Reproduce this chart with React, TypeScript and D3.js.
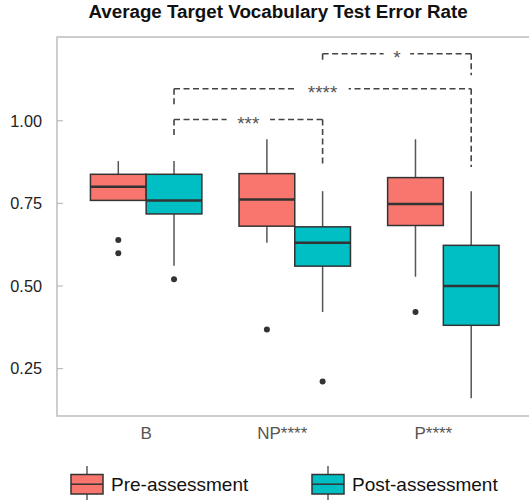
import React from 'react';
import * as d3 from 'd3';

// chart values
const categories = ['B', 'NP', 'P'];
const categoryLabels = ['B', 'NP****', 'P****'];
const groups = ['pre', 'post'];
const groupNames = ['Pre-assessment', 'Post-assessment'];
const groupColors = ['#F8766D', '#00BFC4'];

const preLow = [0.759, 0.631, 0.528];
const preQ1 = [0.759, 0.681, 0.683];
const preMedian = [0.800, 0.762, 0.748];
const preQ3 = [0.838, 0.840, 0.828];
const preHigh = [0.878, 0.944, 0.944];
const preOutliers = [[0.639, 0.599], [0.368], [0.421]];

const postLow = [0.561, 0.421, 0.160];
const postQ1 = [0.718, 0.560, 0.381];
const postMedian = [0.759, 0.631, 0.500];
const postQ3 = [0.838, 0.679, 0.623];
const postHigh = [0.878, 0.787, 0.787];
const postOutliers = [[0.520], [0.211], []];

const yTicks = [0.25, 0.5, 0.75, 1.0];

// significance brackets: from/to categories (post boxes), top, leg ends
const bracketFrom = ['B', 'B', 'NP'];
const bracketTo = ['NP', 'P', 'P'];
const bracketTop = [1.004, 1.097, 1.203];
const bracketLeftEnd = [0.949, 1.047, 1.176];
const bracketRightEnd = [0.860, 0.860, 1.138];
const bracketLabels = ['***', '****', '*'];

const W = 529;
const H = 502;
const panel = { left: 57, right: 532.5, top: 37, bottom: 416 };
const FONT = 'Liberation Sans, Arial, Helvetica, sans-serif';

export default function App() {
  const x = d3.scaleBand()
    .domain(categories)
    .range([panel.left, panel.right])
    .paddingInner(0)
    .paddingOuter(0.1);
  const step = x.step();
  const dodge = d3.scaleBand()
    .domain(groups)
    .range([-0.375 * step, 0.375 * step]);
  const y = d3.scaleLinear()
    .domain([0.1065, 1.2535])
    .range([panel.bottom, panel.top]);

  const center = (c) => x(c) + x.bandwidth() / 2;
  const boxW = dodge.bandwidth();

  const stats = [
    { low: preLow, q1: preQ1, med: preMedian, q3: preQ3, high: preHigh, out: preOutliers },
    { low: postLow, q1: postQ1, med: postMedian, q3: postQ3, high: postHigh, out: postOutliers },
  ];

  const boxes = [];
  groups.forEach((g, gi) => {
    const s = stats[gi];
    categories.forEach((c, ci) => {
      const x0 = center(c) + dodge(g);
      const cx = x0 + boxW / 2;
      boxes.push(
        <g key={`${g}-${c}`}>
          <line x1={cx} x2={cx} y1={y(s.high[ci])} y2={y(s.q3[ci])} stroke="#555" strokeWidth={1.5} />
          <line x1={cx} x2={cx} y1={y(s.q1[ci])} y2={y(s.low[ci])} stroke="#555" strokeWidth={1.5} />
          <rect x={x0} y={y(s.q3[ci])} width={boxW} height={y(s.q1[ci]) - y(s.q3[ci])}
            fill={groupColors[gi]} stroke="#333" strokeWidth={1.5} />
          <line x1={x0} x2={x0 + boxW} y1={y(s.med[ci])} y2={y(s.med[ci])} stroke="#333" strokeWidth={2.5} />
          {s.out[ci].map((v, i) => (
            <circle key={i} cx={cx} cy={y(v)} r={3} fill="#333" />
          ))}
        </g>,
      );
    });
  });

  const postCenter = (c) => center(c) + dodge('post') + boxW / 2;
  const brackets = bracketLabels.map((lab, i) => {
    const xa = postCenter(bracketFrom[i]);
    const xb = postCenter(bracketTo[i]);
    const yt = y(bracketTop[i]);
    const tw = lab.length * 8.5 + 18;
    const dash = { stroke: '#444', strokeWidth: 1.6, strokeDasharray: '6,3.5', fill: 'none' };
    return (
      <g key={i}>
        <line x1={xa} x2={xb} y1={yt} y2={yt} {...dash} />
        <line x1={xa} x2={xa} y1={yt} y2={y(bracketLeftEnd[i])} {...dash} />
        <line x1={xb} x2={xb} y1={yt} y2={y(bracketRightEnd[i])} {...dash} />
        <rect x={(xa + xb) / 2 - tw / 2} y={yt - 6} width={tw} height={12} fill="#fff" />
        <text x={(xa + xb) / 2} y={yt + 10.5} textAnchor="middle" fontSize={19} fill="#555">{lab}</text>
      </g>
    );
  });

  const legendX = [71, 312];
  const legend = groupNames.map((name, i) => {
    const lx = legendX[i];
    const kw = 32;
    const cx = lx + kw / 2;
    return (
      <g key={name}>
        <line x1={cx} x2={cx} y1={466} y2={500} stroke="#333" strokeWidth={1.2} />
        <rect x={lx} y={474.5} width={kw} height={19.5} fill={groupColors[i]} stroke="#333" strokeWidth={1.5} />
        <line x1={lx} x2={lx + kw} y1={484.2} y2={484.2} stroke="#333" strokeWidth={1.5} />
        <text x={lx + 40} y={490.5} fontSize={19} fill="#111">{name}</text>
      </g>
    );
  });

  return (
    <svg width={W} height={H} style={{ position: 'absolute', left: 0, top: 0 }} fontFamily={FONT}>
      <rect x={0} y={0} width={W} height={H} fill="#fff" />
      <text x={278} y={18} textAnchor="middle" fontSize={18.8} fontWeight="bold" fill="#111">
        Average Target Vocabulary Test Error Rate
      </text>

      {/* panel */}
      <rect x={panel.left} y={panel.top} width={panel.right - panel.left} height={panel.bottom - panel.top}
        fill="none" stroke="#bdbdbd" strokeWidth={1.5} />

      {/* y axis */}
      {yTicks.map((t) => (
        <g key={t}>
          <line x1={panel.left} x2={panel.left + 6} y1={y(t)} y2={y(t)} stroke="#bdbdbd" strokeWidth={1.2} />
          <text x={42} y={y(t) + 5.8} textAnchor="end" fontSize={16.3} fill="#222">{d3.format('.2f')(t)}</text>
        </g>
      ))}

      {/* x labels */}
      {categories.map((c, i) => (
        <text key={c} x={center(c) - (categoryLabels[i].length - 1) * 2.5} y={439} textAnchor="middle" fontSize={17} fill="#555">
          {categoryLabels[i]}
        </text>
      ))}

      {boxes}
      {brackets}
      {legend}
    </svg>
  );
}
